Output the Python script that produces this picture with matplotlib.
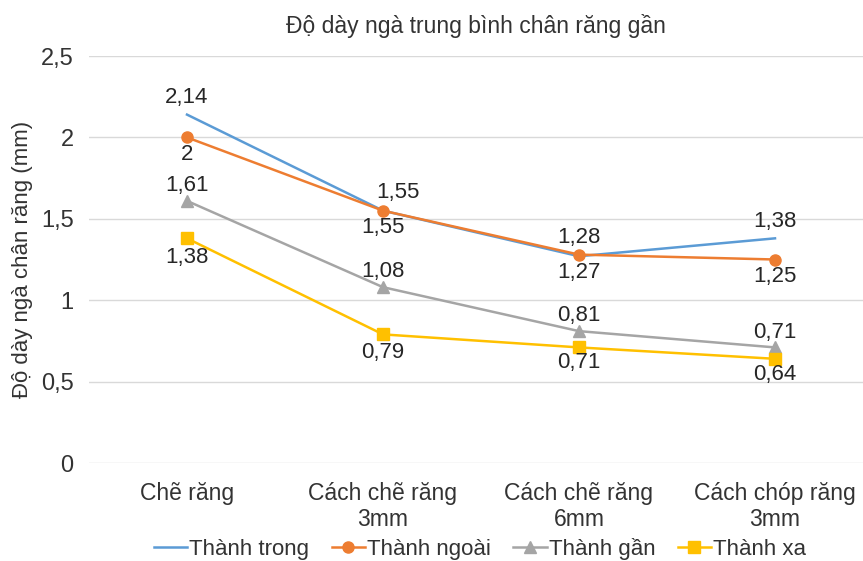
import matplotlib
matplotlib.use("Agg")
from matplotlib import pyplot as plt

# data
categories = ["Chẽ răng", "Cách chẽ răng\n3mm", "Cách chẽ răng\n6mm", "Cách chóp răng\n3mm"]
thanh_trong = [2.14, 1.55, 1.27, 1.38]
thanh_ngoai = [2.0, 1.55, 1.28, 1.25]
thanh_gan = [1.61, 1.08, 0.81, 0.71]
thanh_xa = [1.38, 0.79, 0.71, 0.64]
series_names = ["Thành trong", "Thành ngoài", "Thành gần", "Thành xa"]

plt.rcParams['font.family'] = ['Liberation Sans', 'DejaVu Sans']

fig = plt.figure(figsize=(8.63, 5.61), dpi=100)
ax = fig.add_axes([89 / 863, (561 - 463) / 561, 784 / 863, (463 - 56) / 561])

x = list(range(len(categories)))
# label offsets (dx, dy) in points
styles = [
    (thanh_trong, "#5B9BD5", None, [(0, 12), (11, 13), (0, -12), (0, 12)]),
    (thanh_ngoai, "#ED7D31", "o", [(0, -12), (0, -12), (0, 12), (0, -12)]),
    (thanh_gan, "#A5A5A5", "^", [(0, 11), (0, 11), (0, 11), (0, 11)]),
    (thanh_xa, "#FFC000", "s", [(0, -14), (0, -13), (0, -11), (0, -11)]),
]

for (vals, color, marker, offs), name in zip(styles, series_names):
    ax.plot(x, vals, color=color, marker=marker, markersize=8, linewidth=1.8,
            label=name, zorder=3)
    for xi, v, (dx, dy) in zip(x, vals, offs):
        label = ("%g" % v).replace(".", ",")
        ax.annotate(label, (xi, v), xytext=(dx, dy), textcoords="offset points",
                    ha="center", va="center", fontsize=16, color="#262626")

ax.set_xlim(-0.5, 3.5)
ax.set_ylim(0, 2.5)
ax.set_yticks([0, 0.5, 1, 1.5, 2, 2.5])
ax.set_yticklabels(["0", "0,5", "1", "1,5", "2", "2,5"])
ax.set_xticks(x)
ax.set_xticklabels(categories, linespacing=1.15)
ax.tick_params(axis="both", length=0, labelcolor="#333333")
ax.tick_params(axis="y", pad=11, labelsize=17)
ax.tick_params(axis="x", pad=14, labelsize=16.5)
ax.grid(axis="y", color="#D9D9D9", linewidth=1)
ax.set_axisbelow(True)
for s in ax.spines.values():
    s.set_visible(False)

ax.set_ylabel("Độ dày ngà chân răng (mm)", fontsize=16, color="#333333")
ax.yaxis.set_label_coords(-56 / 784, 0.5)
fig.text(476 / 863, 1 - 26 / 561, "Độ dày ngà trung bình chân răng gần",
         ha="center", va="center", fontsize=16.5, color="#333333")

fig.legend(loc="center", bbox_to_anchor=(480 / 863, 1 - 549 / 561), ncol=4,
           frameon=False, fontsize=16, handlelength=1.5, handletextpad=0.1,
           columnspacing=1.0, labelcolor="#333333", borderaxespad=0)

fig.savefig("out.png", dpi=100)
